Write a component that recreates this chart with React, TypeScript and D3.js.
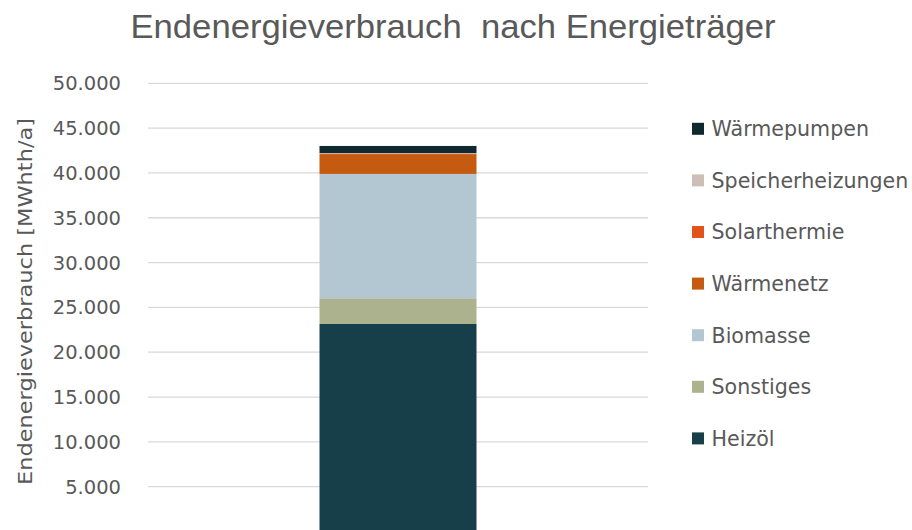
import React from "react";
import * as d3 from "d3";

const categories = ["Gesamt"];
const seriesNames = ["Heizöl", "Sonstiges", "Biomasse", "Wärmenetz", "Solarthermie", "Speicherheizungen", "Wärmepumpen"];
const seriesValues = [23150, 2870, 13870, 2120, 110, 90, 800];
const seriesColors = ["#173f49", "#acb28d", "#b3c7d2", "#c55a11", "#e2531b", "#cbbfb7", "#0f292f"];
const yTicks = [5000, 10000, 15000, 20000, 25000, 30000, 35000, 40000, 45000, 50000];

const W = 912;
const H = 530;

export default function App() {
  React.useEffect(() => {
    document.body.style.margin = "0";
  }, []);

  const plotLeft = 148;
  const plotRight = 648;
  const y = d3.scaleLinear().domain([0, 50000]).range([531.5, 83.3]);
  const x = d3.scaleBand().domain(categories).range([plotLeft, plotRight]).paddingInner(0.686).paddingOuter(0.343);

  const row: Record<string, number> = { cat: 0 } as any;
  seriesNames.forEach((n, i) => (row[n] = seriesValues[i]));
  const stacked = d3.stack<any>().keys(seriesNames)([row]);

  const fmt = (v: number) => d3.format(",")(v).replace(/,/g, ".");
  const font = "'DejaVu Sans', sans-serif";
  const grey = "#595959";

  const legendOrder = [...seriesNames].reverse();

  return (
    <svg width={W} height={H} style={{ display: "block", background: "#fff" }}>
      <text x={453} y={38} textAnchor="middle" fontFamily="'Liberation Sans', sans-serif" fontSize={33} fill={grey} xmlSpace="preserve" textLength={645} lengthAdjust="spacingAndGlyphs">
        Endenergieverbrauch  nach Energieträger
      </text>
      {yTicks.map((t) => (
        <g key={t}>
          <line x1={plotLeft} x2={plotRight} y1={y(t)} y2={y(t)} stroke="#d9d9d9" strokeWidth={1.3} />
          <text x={121} y={y(t)} dy="0.36em" textAnchor="end" fontFamily={font} fontSize={19.5} fill={grey}>
            {fmt(t)}
          </text>
        </g>
      ))}
      <line x1={plotLeft} x2={plotRight} y1={y(0)} y2={y(0)} stroke="#d9d9d9" strokeWidth={1.3} />
      <text transform={`translate(32,301.5) rotate(-90)`} textAnchor="middle" fontFamily={font} fontSize={19.5} fill={grey} textLength={367} lengthAdjust="spacingAndGlyphs">
        Endenergieverbrauch [MWhth/a]
      </text>
      {stacked.map((s, i) => (
        <g key={s.key} fill={seriesColors[i]}>
          {s.map((d, j) => (
            <rect key={j} x={x(categories[j])!} width={x.bandwidth()} y={y(d[1])} height={y(d[0]) - y(d[1])} />
          ))}
        </g>
      ))}
      {legendOrder.map((n, i) => {
        const idx = seriesNames.indexOf(n);
        const cy = 128.8 + i * 51.6;
        return (
          <g key={n}>
            <rect x={692} y={cy - 6} width={12} height={12} fill={seriesColors[idx]} />
            <text x={711.5} y={cy} dy="0.36em" fontFamily={font} fontSize={20.6} fill={grey}>
              {n}
            </text>
          </g>
        );
      })}
    </svg>
  );
}
